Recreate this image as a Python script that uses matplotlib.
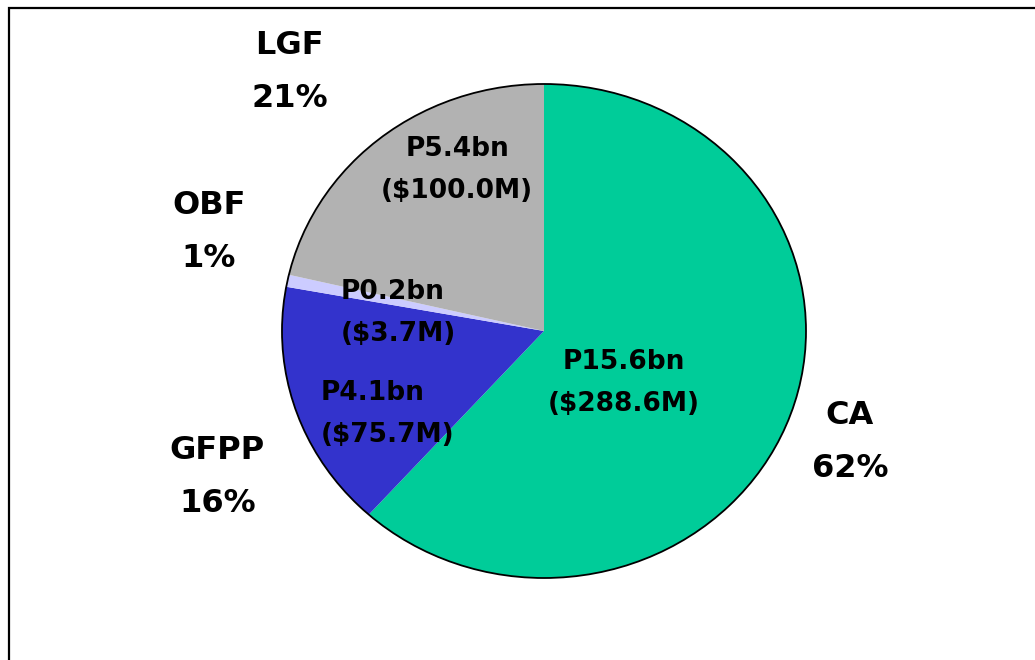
'''
Funding sources pie chart (share of total, with Pula / USD amounts)
'''

import numpy as np
import matplotlib.pyplot as plt
from matplotlib.patches import Circle, Rectangle

# Chart data
SOURCES = ['CA', 'GFPP', 'OBF', 'LGF']
PULA_BN = [15.6, 4.1, 0.2, 5.4]
USD_M = [288.6, 75.7, 3.7, 100.0]
SHARE_PCT = [62, 16, 1, 21]
COLORS = ['#00CC99', '#3333CC', '#CCCCFF', '#B2B2B2']

# Label layout (radius in pie units, angle nudge in degrees from wedge middle)
OUTER_R = [1.25, 1.38, 1.34, 1.43]
OUTER_DANG = [0.0, 6.5, -5.6, 4.4]
INNER_R = [0.37, 0.687, 0.56, 0.73]
INNER_DANG = [-13.8, 10.5, 4.3, -11.4]
INNER_ALIGN = ['center', 'left', 'left', 'center']

W, H = 1035, 660
CX, CY = 544, 331    # pie centre in pixels from top-left
RX, RY = 262, 247    # pie radii in pixels


def main():
    fig = plt.figure(figsize=(W / 100, H / 100), dpi=100)
    ax = fig.add_axes([0, 0, 1, 1])

    wedges, _ = ax.pie(PULA_BN, colors=COLORS, startangle=90, counterclock=False,
                       wedgeprops={'linewidth': 0})
    ax.add_patch(Circle((0, 0), 1, fill=False, edgecolor='black', linewidth=1.3))

    # stretch the pie the way the original was
    ax.set_aspect('auto')
    ax.set_xlim(-CX / RX, (W - CX) / RX)
    ax.set_ylim(-(H - CY) / RY, CY / RY)
    ax.axis('off')

    for i, w in enumerate(wedges):
        mid = (w.theta1 + w.theta2) / 2

        # outer name + share
        a = np.deg2rad(mid + OUTER_DANG[i])
        ax.text(OUTER_R[i] * np.cos(a), OUTER_R[i] * np.sin(a),
                f'{SOURCES[i]}\n{SHARE_PCT[i]}%', ha='center', va='center',
                fontsize=23, fontweight='bold', linespacing=1.92, multialignment='center')

        # inner amounts
        a = np.deg2rad(mid + INNER_DANG[i])
        ax.text(INNER_R[i] * np.cos(a), INNER_R[i] * np.sin(a),
                f'P{PULA_BN[i]:.1f}bn\n(${USD_M[i]:.1f}M)', ha='center', va='center',
                fontsize=19, fontweight='bold', linespacing=1.8,
                multialignment=INNER_ALIGN[i])

    # frame around the chart (runs off the right and bottom edge)
    fig.add_artist(Rectangle((9 / W, -0.1), 2, 1.1 - 8 / H, transform=fig.transFigure,
                             fill=False, edgecolor='black', linewidth=1.6))

    plt.savefig('out.png', dpi=100)
    plt.close()


if __name__ == '__main__':
    main()
